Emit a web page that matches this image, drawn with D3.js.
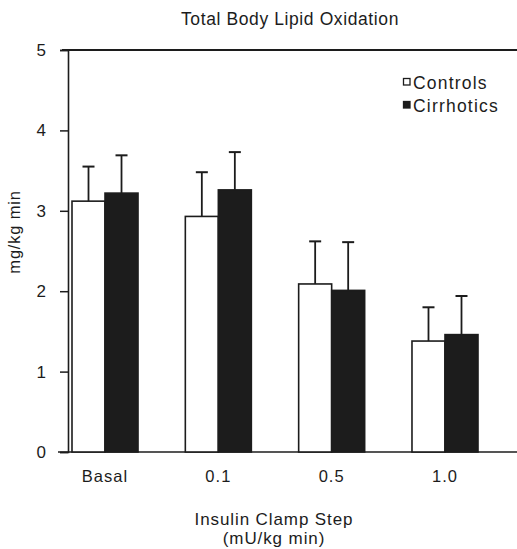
<!DOCTYPE html>
<html>
<head>
<meta charset="utf-8">
<script src="https://cdn.jsdelivr.net/npm/d3@7"></script>
<style>
  html, body { margin: 0; padding: 0; background: #fff; }
  svg { display: block; font-family: "Liberation Sans", Arial, Helvetica, sans-serif; }
</style>
</head>
<body>
<svg id="chart" width="517" height="549"></svg>
<script>
const categories = ["Basal", "0.1", "0.5", "1.0"];
const seriesNames = ["Controls", "Cirrhotics"];
const controls = [3.12, 2.93, 2.09, 1.38];
const controlsErr = [0.43, 0.55, 0.53, 0.42];
const cirrhotics = [3.22, 3.26, 2.01, 1.46];
const cirrhoticsErr = [0.47, 0.47, 0.60, 0.48];
const yTicks = [0, 1, 2, 3, 4, 5];
const titleText = "Total Body Lipid Oxidation";
const yLabel = "mg/kg min";
const xLabel1 = "Insulin Clamp Step";
const xLabel2 = "(mU/kg min)";

const ink = "#1c1c1c";
const svg = d3.select("#chart");

const y = d3.scaleLinear().domain([0, 5]).range([452, 50]);
const x = d3.scaleBand().domain(categories).range([72, 478]).paddingInner(0.4175).paddingOuter(0);
const xs = d3.scaleBand().domain(seriesNames).range([0, x.bandwidth()]).padding(0);

const rows = categories.map((c, i) => ({
  cat: c,
  vals: [
    { s: "Controls", v: controls[i], e: controlsErr[i] },
    { s: "Cirrhotics", v: cirrhotics[i], e: cirrhoticsErr[i] }
  ]
}));

// Title
svg.append("text").attr("x", 290).attr("y", 25)
  .attr("text-anchor", "middle").attr("font-size", 17.5).attr("letter-spacing", 0.6)
  .attr("fill", ink).text(titleText);

// Top frame line
svg.append("line").attr("x1", 62).attr("x2", 517).attr("y1", y(5)).attr("y2", y(5))
  .attr("stroke", ink).attr("stroke-width", 2);
// Bottom baseline
svg.append("line").attr("x1", 58).attr("x2", 517).attr("y1", y(0)).attr("y2", y(0))
  .attr("stroke", ink).attr("stroke-width", 1.6);

// Y axis
const yAxis = svg.append("g").attr("transform", "translate(68,0)")
  .call(d3.axisLeft(y).tickValues(yTicks).tickFormat(d3.format("d")).tickSize(8).tickPadding(14));
yAxis.select(".domain").attr("stroke", ink).attr("stroke-width", 1.6);
yAxis.selectAll(".tick line").attr("stroke", ink).attr("stroke-width", 1.5);
yAxis.selectAll(".tick text").attr("font-size", 17).attr("fill", ink)
  .attr("font-family", "Liberation Sans, Arial, sans-serif");

// X axis (labels only)
const xAxis = svg.append("g").attr("transform", `translate(0,${y(0)})`)
  .call(d3.axisBottom(x).tickSize(0).tickPadding(18));
xAxis.select(".domain").remove();
xAxis.selectAll(".tick text").attr("font-size", 16.5).attr("letter-spacing", 1).attr("fill", ink)
  .attr("font-family", "Liberation Sans, Arial, sans-serif");

// Bars
const groups = svg.append("g").selectAll("g").data(rows).join("g")
  .attr("transform", d => `translate(${x(d.cat)},0)`);

groups.selectAll("rect").data(d => d.vals).join("rect")
  .attr("x", d => xs(d.s))
  .attr("y", d => y(d.v))
  .attr("width", xs.bandwidth())
  .attr("height", d => y(0) - y(d.v))
  .attr("fill", d => d.s === "Controls" ? "#fff" : ink)
  .attr("stroke", ink).attr("stroke-width", 1.6);

// Error bars
groups.selectAll("line.err").data(d => d.vals).join("line")
  .attr("class", "err")
  .attr("x1", d => xs(d.s) + xs.bandwidth() / 2)
  .attr("x2", d => xs(d.s) + xs.bandwidth() / 2)
  .attr("y1", d => y(d.v))
  .attr("y2", d => y(d.v + d.e))
  .attr("stroke", ink).attr("stroke-width", 1.8);
groups.selectAll("line.cap").data(d => d.vals).join("line")
  .attr("class", "cap")
  .attr("x1", d => xs(d.s) + xs.bandwidth() / 2 - 6)
  .attr("x2", d => xs(d.s) + xs.bandwidth() / 2 + 6)
  .attr("y1", d => y(d.v + d.e))
  .attr("y2", d => y(d.v + d.e))
  .attr("stroke", ink).attr("stroke-width", 2);

// Legend
const legend = svg.append("g").attr("transform", "translate(403,78)");
seriesNames.forEach((s, i) => {
  const g = legend.append("g").attr("transform", `translate(0,${i * 23})`);
  g.append("rect").attr("x", 0.5).attr("y", 0.5).attr("width", 6.5).attr("height", 6.5)
    .attr("fill", s === "Controls" ? "#fff" : ink).attr("stroke", ink).attr("stroke-width", 1.3);
  g.append("text").attr("x", 10).attr("y", 10.5).attr("font-size", 17.5).attr("letter-spacing", 1.2)
    .attr("fill", ink).text(s);
});

// Y label
svg.append("text").attr("transform", "translate(20,232) rotate(-90)")
  .attr("text-anchor", "middle").attr("font-size", 16.5).attr("letter-spacing", 0.8)
  .attr("fill", ink).text(yLabel);

// X label
svg.append("text").attr("x", 274).attr("y", 525)
  .attr("text-anchor", "middle").attr("font-size", 17).attr("letter-spacing", 0.9)
  .attr("fill", ink).text(xLabel1);
svg.append("text").attr("x", 274).attr("y", 544)
  .attr("text-anchor", "middle").attr("font-size", 17).attr("letter-spacing", 0.9)
  .attr("fill", ink).text(xLabel2);
</script>
</body>
</html>
